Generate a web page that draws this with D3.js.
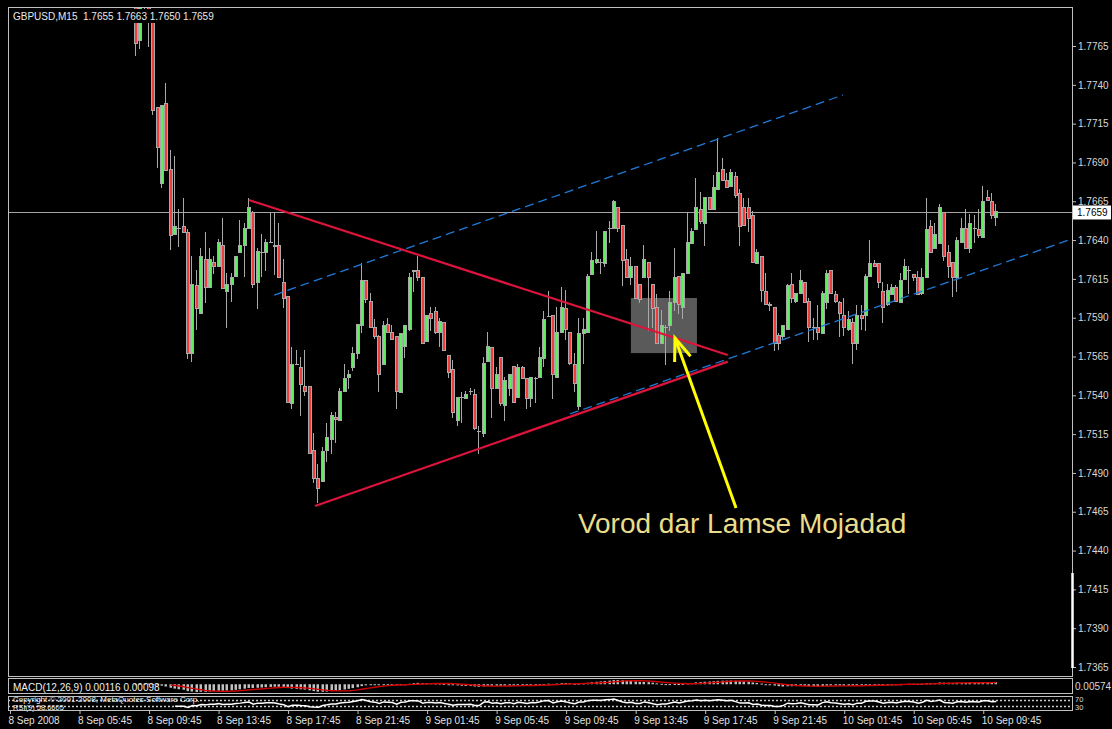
<!DOCTYPE html>
<html>
<head>
<meta charset="utf-8">
<script src="https://cdn.jsdelivr.net/npm/d3@7"></script>
<style>
  body { margin: 0; background: #000; }
  text { font-family: "Liberation Sans", Arial, sans-serif; }
</style>
</head>
<body>
<svg id="chart" width="1112" height="729"></svg>
<script>
// GBPUSD M15, one row per bar: [open, high, low, close]
const candles = [
  [1.7800,1.7805,1.7759,1.7767],[1.7769,1.7800,1.7764,1.7796],[1.7796,1.7801,1.7782,1.7792],[1.7797,1.7800,1.7765,1.7782],
  [1.7785,1.7787,1.7721,1.7724],[1.7726,1.7726,1.7687,1.7700],[1.7677,1.7727,1.7674,1.7727],[1.7728,1.7741,1.7685,1.7685],
  [1.7686,1.7698,1.7634,1.7643],[1.7644,1.7694,1.7644,1.7649],[1.7648,1.7660,1.7636,1.7648],[1.7649,1.7667,1.7645,1.7645],
  [1.7645,1.7647,1.7564,1.7567],[1.7567,1.7630,1.7562,1.7612],[1.7611,1.7621,1.7583,1.7596],[1.7593,1.7635,1.7593,1.7630],
  [1.7628,1.7645,1.7600,1.7610],[1.7610,1.7635,1.7610,1.7628],[1.7626,1.7630,1.7619,1.7623],[1.7623,1.7641,1.7623,1.7639],
  [1.7637,1.7654,1.7609,1.7609],[1.7607,1.7619,1.7584,1.7612],[1.7612,1.7619,1.7601,1.7616],[1.7617,1.7630,1.7617,1.7630],
  [1.7632,1.7653,1.7632,1.7637],[1.7637,1.7651,1.7617,1.7648],[1.7648,1.7667,1.7648,1.7661],[1.7658,1.7659,1.7610,1.7612],
  [1.7613,1.7635,1.7596,1.7633],[1.7632,1.7644,1.7617,1.7632],[1.7632,1.7641,1.7621,1.7639],[1.7639,1.7658,1.7639,1.7639],
  [1.7637,1.7658,1.7618,1.7636],[1.7637,1.7651,1.7616,1.7616],[1.7613,1.7628,1.7597,1.7603],[1.7604,1.7604,1.7536,1.7536],
  [1.7535,1.7571,1.7532,1.7560],[1.7560,1.7569,1.7560,1.7560],[1.7558,1.7565,1.7527,1.7547],[1.7546,1.7569,1.7540,1.7543],
  [1.7546,1.7546,1.7503,1.7503],[1.7505,1.7516,1.7484,1.7487],[1.7487,1.7496,1.7471,1.7480],[1.7485,1.7507,1.7485,1.7504],
  [1.7505,1.7522,1.7498,1.7513],[1.7512,1.7529,1.7503,1.7527],[1.7526,1.7529,1.7510,1.7525],[1.7524,1.7545,1.7524,1.7543],
  [1.7543,1.7560,1.7543,1.7551],[1.7552,1.7556,1.7545,1.7554],[1.7558,1.7571,1.7556,1.7567],[1.7567,1.7586,1.7564,1.7586],
  [1.7585,1.7625,1.7581,1.7614],[1.7614,1.7614,1.7600,1.7602],[1.7601,1.7606,1.7584,1.7584],[1.7584,1.7589,1.7577,1.7578],
  [1.7578,1.7579,1.7543,1.7554],[1.7560,1.7588,1.7560,1.7585],[1.7586,1.7590,1.7581,1.7581],[1.7581,1.7585,1.7576,1.7576],
  [1.7578,1.7578,1.7532,1.7543],[1.7542,1.7580,1.7542,1.7580],[1.7572,1.7585,1.7565,1.7585],[1.7583,1.7619,1.7582,1.7616],
  [1.7621,1.7621,1.7607,1.7620],[1.7621,1.7630,1.7614,1.7616],[1.7616,1.7616,1.7574,1.7574],[1.7575,1.7592,1.7575,1.7592],
  [1.7593,1.7597,1.7582,1.7590],[1.7594,1.7597,1.7580,1.7581],[1.7581,1.7590,1.7572,1.7588],[1.7587,1.7587,1.7569,1.7569],
  [1.7566,1.7566,1.7552,1.7555],[1.7557,1.7563,1.7526,1.7529],[1.7524,1.7539,1.7521,1.7539],[1.7539,1.7542,1.7523,1.7539],
  [1.7538,1.7543,1.7538,1.7541],[1.7543,1.7545,1.7541,1.7543],[1.7541,1.7544,1.7518,1.7519],[1.7517,1.7520,1.7503,1.7517],
  [1.7516,1.7565,1.7514,1.7561],[1.7562,1.7581,1.7562,1.7572],[1.7571,1.7571,1.7526,1.7545],[1.7545,1.7558,1.7545,1.7554],
  [1.7565,1.7565,1.7534,1.7535],[1.7534,1.7552,1.7524,1.7550],[1.7545,1.7554,1.7540,1.7554],[1.7559,1.7559,1.7536,1.7536],
  [1.7539,1.7560,1.7539,1.7558],[1.7558,1.7559,1.7551,1.7551],[1.7551,1.7551,1.7532,1.7538],[1.7538,1.7552,1.7533,1.7552],
  [1.7551,1.7552,1.7536,1.7551],[1.7552,1.7571,1.7552,1.7565],[1.7564,1.7594,1.7559,1.7589],[1.7591,1.7607,1.7591,1.7591],
  [1.7592,1.7592,1.7538,1.7554],[1.7552,1.7597,1.7552,1.7581],[1.7581,1.7610,1.7581,1.7597],[1.7596,1.7608,1.7576,1.7583],
  [1.7581,1.7581,1.7560,1.7561],[1.7560,1.7567,1.7543,1.7548],[1.7533,1.7590,1.7531,1.7580],[1.7580,1.7590,1.7561,1.7583],
  [1.7581,1.7618,1.7581,1.7617],[1.7618,1.7632,1.7618,1.7627],[1.7626,1.7646,1.7625,1.7628],[1.7626,1.7628,1.7619,1.7626],
  [1.7625,1.7646,1.7623,1.7646],[1.7648,1.7652,1.7639,1.7648],[1.7648,1.7666,1.7648,1.7665],[1.7661,1.7661,1.7646,1.7648],
  [1.7650,1.7650,1.7611,1.7627],[1.7628,1.7634,1.7616,1.7616],[1.7616,1.7629,1.7612,1.7623],[1.7623,1.7623,1.7603,1.7603],
  [1.7612,1.7612,1.7600,1.7602],[1.7616,1.7637,1.7616,1.7628],[1.7626,1.7626,1.7582,1.7616],[1.7612,1.7612,1.7584,1.7596],
  [1.7597,1.7605,1.7574,1.7574],[1.7574,1.7595,1.7574,1.7585],[1.7584,1.7585,1.7560,1.7584],[1.7585,1.7607,1.7582,1.7600],
  [1.7600,1.7635,1.7595,1.7616],[1.7617,1.7617,1.7593,1.7599],[1.7597,1.7619,1.7590,1.7619],[1.7619,1.7658,1.7619,1.7639],
  [1.7638,1.7648,1.7638,1.7646],[1.7647,1.7680,1.7647,1.7661],[1.7660,1.7671,1.7651,1.7652],[1.7651,1.7668,1.7637,1.7668],
  [1.7668,1.7668,1.7660,1.7660],[1.7660,1.7682,1.7660,1.7674],[1.7673,1.7706,1.7673,1.7684],[1.7686,1.7693,1.7679,1.7679],
  [1.7679,1.7683,1.7674,1.7674],[1.7675,1.7686,1.7675,1.7684],[1.7681,1.7684,1.7668,1.7669],[1.7670,1.7673,1.7637,1.7649],
  [1.7661,1.7667,1.7650,1.7650],[1.7661,1.7667,1.7646,1.7654],[1.7656,1.7659,1.7626,1.7626],[1.7625,1.7634,1.7625,1.7632],
  [1.7630,1.7630,1.7601,1.7608],[1.7607,1.7619,1.7599,1.7599],[1.7598,1.7600,1.7595,1.7599],[1.7597,1.7597,1.7569,1.7574],
  [1.7579,1.7580,1.7570,1.7574],[1.7578,1.7585,1.7576,1.7585],[1.7583,1.7612,1.7583,1.7611],[1.7612,1.7619,1.7600,1.7603],
  [1.7601,1.7606,1.7600,1.7606],[1.7606,1.7621,1.7606,1.7614],[1.7613,1.7613,1.7600,1.7600],[1.7601,1.7603,1.7575,1.7584],
  [1.7584,1.7590,1.7576,1.7584],[1.7584,1.7598,1.7576,1.7581],[1.7580,1.7607,1.7580,1.7606],[1.7600,1.7621,1.7596,1.7619],
  [1.7621,1.7621,1.7606,1.7606],[1.7605,1.7607,1.7600,1.7601],[1.7600,1.7601,1.7578,1.7593],[1.7592,1.7603,1.7579,1.7584],
  [1.7583,1.7594,1.7582,1.7589],[1.7587,1.7590,1.7561,1.7574],[1.7574,1.7598,1.7570,1.7592],[1.7592,1.7598,1.7583,1.7590],
  [1.7592,1.7618,1.7582,1.7617],[1.7617,1.7640,1.7617,1.7625],[1.7625,1.7627,1.7623,1.7623],[1.7625,1.7625,1.7610,1.7613],
  [1.7607,1.7613,1.7587,1.7597],[1.7599,1.7612,1.7598,1.7608],[1.7605,1.7612,1.7605,1.7610],[1.7610,1.7611,1.7601,1.7601],
  [1.7600,1.7619,1.7600,1.7614],[1.7615,1.7628,1.7615,1.7623],[1.7621,1.7623,1.7606,1.7621],[1.7618,1.7618,1.7614,1.7616],
  [1.7616,1.7620,1.7605,1.7605],[1.7606,1.7622,1.7605,1.7616],[1.7616,1.7667,1.7616,1.7647],[1.7649,1.7653,1.7632,1.7632],
  [1.7635,1.7651,1.7635,1.7644],[1.7638,1.7663,1.7638,1.7661],[1.7658,1.7658,1.7627,1.7630],[1.7632,1.7637,1.7616,1.7623],
  [1.7626,1.7626,1.7604,1.7616],[1.7616,1.7642,1.7607,1.7640],[1.7639,1.7654,1.7639,1.7648],[1.7648,1.7660,1.7635,1.7635],
  [1.7635,1.7657,1.7632,1.7651],[1.7648,1.7656,1.7639,1.7648],[1.7647,1.7660,1.7642,1.7643],[1.7642,1.7675,1.7642,1.7665],
  [1.7668,1.7672,1.7666,1.7666],[1.7665,1.7670,1.7654,1.7656],[1.7655,1.7663,1.7650,1.7659]
];

const symbol = 'GBPUSD,M15';
const bidPrice = 1.7659;

// price scale labels
const priceTicks = [1.7765, 1.7740, 1.7715, 1.7690, 1.7665, 1.7640, 1.7615, 1.7590, 1.7565,
                    1.7540, 1.7515, 1.7490, 1.7465, 1.7440, 1.7415, 1.7390, 1.7365];

// time labels: [bar index, label]
const timeTicks = [
  [-29, '8 Sep 2008'], [-13, '8 Sep 05:45'], [3, '8 Sep 09:45'], [19, '8 Sep 13:45'], [35, '8 Sep 17:45'],
  [51, '8 Sep 21:45'], [67, '9 Sep 01:45'], [83, '9 Sep 05:45'], [99, '9 Sep 09:45'], [115, '9 Sep 13:45'],
  [131, '9 Sep 17:45'], [147, '9 Sep 21:45'], [163, '10 Sep 01:45'], [179, '10 Sep 05:45'], [195, '10 Sep 09:45']
];

// drawn objects, in [bar index, price]
const triangleLines = [
  [[26.0, 1.76658], [136.2, 1.75660]],
  [[41.2, 1.74687], [136.2, 1.75617]]
];
const channelLines = [
  [[31.8, 1.76046], [162.7, 1.77334]],
  [[99.9, 1.75280], [215.4, 1.76407]]
];
const entryBox = [[113.9, 1.76027], [129.1, 1.75672]];
const arrow = { tail: [138.1, 1.74674], tip: [124.05, 1.75769] };
const note = { at: [101.7, 1.74513], text: 'Vorod dar Lamse Mojadad' };

const macdLabel = 'MACD(12,26,9) 0.00116 0.00098';
const macdScaleLabel = '0.00574';
const rsiLabel = 'RSI(9) 58.6605';
const rsiLevels = [70, 30];
const rsiScaleLabels = ['70', '30'];
const copyright = 'Copyright \u00A9 2001-2008, MetaQuotes Software Corp.';

// ---- layout
const frame = { left: 8, right: 1072, top: 7, bottom: 676 };
const macdBox = { top: 678, bottom: 693 };
const rsiBox = { top: 695.5, bottom: 710 };

const svg = d3.select('#chart');
svg.append('rect').attr('width', 1112).attr('height', 729).attr('fill', '#000');

const x = d3.scaleLinear().domain([0, candles.length - 1]).range([136, 996.3]);
const y = d3.scaleLinear().domain([1.7365, 1.7765]).range([667, 46]);
const fmt4 = d3.format('.4f');

const defs = svg.append('defs');
defs.append('clipPath').attr('id', 'clipMain').append('rect')
  .attr('x', frame.left).attr('y', frame.top)
  .attr('width', frame.right - frame.left).attr('height', frame.bottom - frame.top);
defs.append('clipPath').attr('id', 'clipMacd').append('rect')
  .attr('x', frame.left).attr('y', macdBox.top)
  .attr('width', frame.right - frame.left).attr('height', macdBox.bottom - macdBox.top);
defs.append('clipPath').attr('id', 'clipRsi').append('rect')
  .attr('x', frame.left).attr('y', rsiBox.top)
  .attr('width', frame.right - frame.left).attr('height', rsiBox.bottom - rsiBox.top);

const main = svg.append('g').attr('clip-path', 'url(#clipMain)');

// gray entry box (background object)
main.append('rect')
  .attr('x', x(entryBox[0][0])).attr('y', y(entryBox[0][1]))
  .attr('width', x(entryBox[1][0]) - x(entryBox[0][0]))
  .attr('height', y(entryBox[1][1]) - y(entryBox[0][1]))
  .attr('fill', '#5a5a5a');

// bid line
main.append('line')
  .attr('x1', frame.left).attr('x2', frame.right)
  .attr('y1', Math.round(y(bidPrice)) + 1.5).attr('y2', Math.round(y(bidPrice)) + 1.5)
  .attr('stroke', '#a4a4a4').attr('stroke-width', 1);

// candles
const wickColor = '#a9a9a9';
const bars = main.append('g').attr('shape-rendering', 'crispEdges');
candles.forEach(([o, h, l, c], i) => {
  const px = Math.round(x(i));
  bars.append('line')
    .attr('x1', px - 0.5).attr('x2', px - 0.5)
    .attr('y1', Math.round(y(h))).attr('y2', Math.round(y(l)) + 1)
    .attr('stroke', wickColor);
  const top = Math.round(y(Math.max(o, c))) + 0.5;
  const bot = Math.round(y(Math.min(o, c))) + 0.5;
  if (bot - top < 1) {
    bars.append('line')
      .attr('x1', px - 2).attr('x2', px + 2)
      .attr('y1', top).attr('y2', top)
      .attr('stroke', wickColor);
  } else {
    bars.append('rect')
      .attr('x', px - 1.5).attr('y', top)
      .attr('width', 3).attr('height', bot - top)
      .attr('fill', c > o ? '#5cf05c' : '#f03c3c')
      .attr('stroke', wickColor).attr('stroke-width', 1);
  }
});

// channel lines (blue dashed)
channelLines.forEach(([a, b]) => {
  main.append('line')
    .attr('x1', x(a[0])).attr('y1', y(a[1]))
    .attr('x2', x(b[0])).attr('y2', y(b[1]))
    .attr('stroke', '#1e7ad8').attr('stroke-width', 1.3)
    .attr('stroke-dasharray', '9,5');
});

// triangle lines (red)
triangleLines.forEach(([a, b]) => {
  main.append('line')
    .attr('x1', x(a[0])).attr('y1', y(a[1]))
    .attr('x2', x(b[0])).attr('y2', y(b[1]))
    .attr('stroke', '#dc143c').attr('stroke-width', 2.2);
});

// yellow arrow
const tipX = x(arrow.tip[0]), tipY = y(arrow.tip[1]);
const tailX = x(arrow.tail[0]), tailY = y(arrow.tail[1]);
const ang = Math.atan2(tailY - tipY, tailX - tipX);
const headLen = 24, headAng = 0.36;
main.append('line')
  .attr('x1', tailX).attr('y1', tailY).attr('x2', tipX).attr('y2', tipY)
  .attr('stroke', '#ffff00').attr('stroke-width', 3);
main.append('path')
  .attr('d', `M${tipX + headLen * Math.cos(ang + headAng)},${tipY + headLen * Math.sin(ang + headAng)}`
    + `L${tipX},${tipY}`
    + `L${tipX + headLen * Math.cos(ang - headAng)},${tipY + headLen * Math.sin(ang - headAng)}`)
  .attr('fill', 'none').attr('stroke', '#ffff00').attr('stroke-width', 3);

// annotation text
main.append('text')
  .attr('x', x(note.at[0])).attr('y', y(note.at[1]))
  .attr('fill', '#e9dd8c').attr('font-size', 28)
  .text(note.text);

// symbol label with black background
const last = candles[candles.length - 1];
svg.append('rect').attr('x', 9).attr('y', 9).attr('width', 209).attr('height', 14).attr('fill', '#000');
svg.append('text')
  .attr('x', 13).attr('y', 19.5)
  .attr('fill', '#e8e8e8').attr('font-size', 10)
  .style('white-space', 'pre')
  .text(`${symbol}  ${last.map(fmt4).join(' ')}`);

// price axis
const yAxis = svg.append('g')
  .attr('transform', `translate(${frame.right},0)`)
  .call(d3.axisRight(y).tickValues(priceTicks).tickFormat(fmt4).tickSize(4).tickPadding(2));
yAxis.select('.domain').remove();
yAxis.selectAll('line').attr('stroke', '#c0c0c0');
yAxis.selectAll('text').attr('fill', '#d8d8d8').attr('font-size', 10)
  .attr('font-family', '"Liberation Sans", Arial, sans-serif');

// bid label box
svg.append('rect')
  .attr('x', frame.right + 1).attr('y', Math.round(y(bidPrice)) - 5.5)
  .attr('width', 38).attr('height', 14).attr('fill', '#fff');
svg.append('text')
  .attr('x', frame.right + 5).attr('y', Math.round(y(bidPrice)) + 5)
  .attr('fill', '#000').attr('font-size', 10)
  .text(fmt4(bidPrice));

// ---- indicators
const closes = candles.map(d => d[3]);
function ema(vals, n) {
  const k = 2 / (n + 1);
  const out = [vals[0]];
  for (let i = 1; i < vals.length; i++) out.push(vals[i] * k + out[i - 1] * (1 - k));
  return out;
}
const e12 = ema(closes, 12), e26 = ema(closes, 26);
const macd = closes.map((_, i) => e12[i] - e26[i]);
const signal = macd.map((_, i) => i < 8 ? null : d3.mean(macd.slice(i - 8, i + 1)));

function rsi(vals, n) {
  const out = vals.map(() => null);
  let g = 0, l = 0;
  for (let i = 1; i <= n; i++) {
    const d = vals[i] - vals[i - 1];
    if (d > 0) g += d; else l -= d;
  }
  g /= n; l /= n;
  out[n] = l === 0 ? 100 : 100 - 100 / (1 + g / l);
  for (let i = n + 1; i < vals.length; i++) {
    const d = vals[i] - vals[i - 1];
    g = (g * (n - 1) + Math.max(d, 0)) / n;
    l = (l * (n - 1) + Math.max(-d, 0)) / n;
    out[i] = l === 0 ? 100 : 100 - 100 / (1 + g / l);
  }
  return out;
}
const rsiVals = rsi(closes, 9);

// MACD window
const macdExt = d3.extent(macd.concat(signal.filter(v => v !== null), [0]));
const ym = d3.scaleLinear().domain(macdExt).range([macdBox.bottom - 1, macdBox.top + 2]);
const macdG = svg.append('g').attr('clip-path', 'url(#clipMacd)');
macdG.selectAll('rect.h').data(macd).enter().append('rect')
  .attr('class', 'h')
  .attr('x', (d, i) => Math.round(x(i)) - 1.5)
  .attr('width', 2.5)
  .attr('y', d => Math.min(ym(d), ym(0)))
  .attr('height', d => Math.max(1, Math.abs(ym(d) - ym(0))))
  .attr('fill', '#c0c0c0');
macdG.append('path')
  .datum(signal.map((v, i) => [i, v]).filter(d => d[1] !== null))
  .attr('d', d3.line().x(d => x(d[0])).y(d => ym(d[1])))
  .attr('fill', 'none').attr('stroke', '#d40000').attr('stroke-width', 1.4);
svg.append('text').attr('x', 13).attr('y', 691).attr('fill', '#f0f0f0').attr('font-size', 10).text(macdLabel);
svg.append('text').attr('x', frame.right + 3).attr('y', 689.5)
  .attr('fill', '#d8d8d8').attr('font-size', 10).text(macdScaleLabel);

// RSI window
const yr = d3.scaleLinear().domain([0, 100]).range([rsiBox.bottom, rsiBox.top]);
const rsiG = svg.append('g').attr('clip-path', 'url(#clipRsi)');
rsiLevels.forEach(v => {
  rsiG.append('line')
    .attr('x1', frame.left).attr('x2', frame.right)
    .attr('y1', Math.round(yr(v)) + 0.5).attr('y2', Math.round(yr(v)) + 0.5)
    .attr('stroke', '#c8c8c8').attr('stroke-width', 1.5).attr('stroke-dasharray', '2,2');
});
rsiG.append('path')
  .datum(rsiVals.map((v, i) => [i, v]).filter(d => d[1] !== null))
  .attr('d', d3.line().x(d => x(d[0])).y(d => yr(d[1])))
  .attr('fill', 'none').attr('stroke', '#ffffff').attr('stroke-width', 1.5);
svg.append('text').attr('x', 13).attr('y', 701.5).attr('fill', '#f0f0f0').attr('font-size', 8).text(copyright);
svg.append('text').attr('x', 13).attr('y', 709.5).attr('fill', '#f0f0f0').attr('font-size', 7.5).text(rsiLabel);
rsiScaleLabels.forEach((t, k) => {
  svg.append('text').attr('x', frame.right + 3).attr('y', k === 0 ? 701.5 : 709.5)
    .attr('fill', '#d8d8d8').attr('font-size', 7.5).text(t);
});

// ---- frames
const frameColor = '#c0c0c0';
[[frame.top, frame.bottom], [macdBox.top, macdBox.bottom], [rsiBox.top, rsiBox.bottom]].forEach(([t, b]) => {
  svg.append('rect')
    .attr('x', frame.left + 0.5).attr('y', Math.round(t) + 0.5)
    .attr('width', frame.right - frame.left).attr('height', Math.round(b) - Math.round(t))
    .attr('fill', 'none').attr('stroke', frameColor).attr('shape-rendering', 'crispEdges');
});
// bright marker on the right edge of the price window
svg.append('line')
  .attr('x1', frame.right + 0.5).attr('x2', frame.right + 0.5)
  .attr('y1', 573).attr('y2', 668)
  .attr('stroke', '#ffffff').attr('stroke-width', 2.5);

// time axis
const xAxis = svg.append('g')
  .attr('transform', `translate(0,${rsiBox.bottom})`)
  .call(d3.axisBottom(x).tickValues(timeTicks.map(t => t[0]))
    .tickFormat((d, i) => timeTicks[i][1]).tickSize(4).tickPadding(3));
xAxis.select('.domain').remove();
xAxis.selectAll('line').attr('stroke', '#c0c0c0');
xAxis.selectAll('text')
  .attr('text-anchor', 'start').attr('dx', -2)
  .attr('fill', '#e0e0e0').attr('font-size', 10)
  .attr('font-family', '"Liberation Sans", Arial, sans-serif');
</script>
</body>
</html>
